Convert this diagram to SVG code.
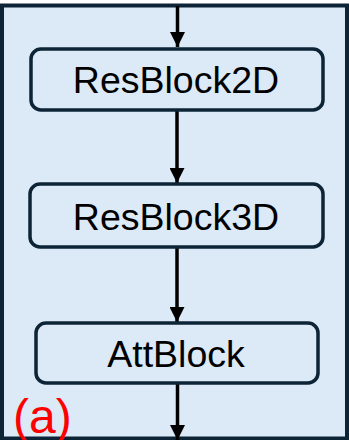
<svg xmlns="http://www.w3.org/2000/svg" width="349" height="440" viewBox="0 0 349 440">
<defs>
<marker id="ah" markerWidth="15" markerHeight="15" refX="15" refY="7.5" orient="auto" markerUnits="userSpaceOnUse">
<path d="M0,0 L15,7.5 L0,15 Z" fill="#000"/>
</marker>
<style>
.frame{fill:#dce9f6;stroke:#0d2436;stroke-width:4}
.box{fill:#dce9f6;stroke:#0d2436;stroke-width:3.5}
.lbl{font-family:"Liberation Sans",Arial,sans-serif;font-size:37.5px;fill:#000;text-anchor:middle}
.edge{stroke:#000;stroke-width:3.5;fill:none;marker-end:url(#ah)}
.tag{font-family:"Liberation Sans",Arial,sans-serif;font-size:48px;fill:#ff0000}
</style>
</defs>
<rect class="frame" x="2" y="5.5" width="345" height="433"/>
<g id="connectors">
<line class="edge" x1="177.5" y1="6" x2="177.5" y2="47"/>
<line class="edge" x1="177" y1="110" x2="177" y2="183"/>
<line class="edge" x1="177" y1="248" x2="177" y2="322"/>
<line class="edge" x1="177.5" y1="383" x2="177.5" y2="440"/>
</g>
<g id="resblock2d">
<rect class="box" x="31" y="49" width="292" height="61" rx="10"/>
<text class="lbl" x="176" y="93">ResBlock2D</text>
</g>
<g id="resblock3d">
<rect class="box" x="30" y="184" width="293" height="63" rx="10"/>
<text class="lbl" x="176" y="230">ResBlock3D</text>
</g>
<g id="attblock">
<rect class="box" x="36" y="323" width="282" height="60" rx="10"/>
<text class="lbl" x="176" y="367">AttBlock</text>
</g>
<text class="tag" x="13" y="433">(a)</text>
</svg>
